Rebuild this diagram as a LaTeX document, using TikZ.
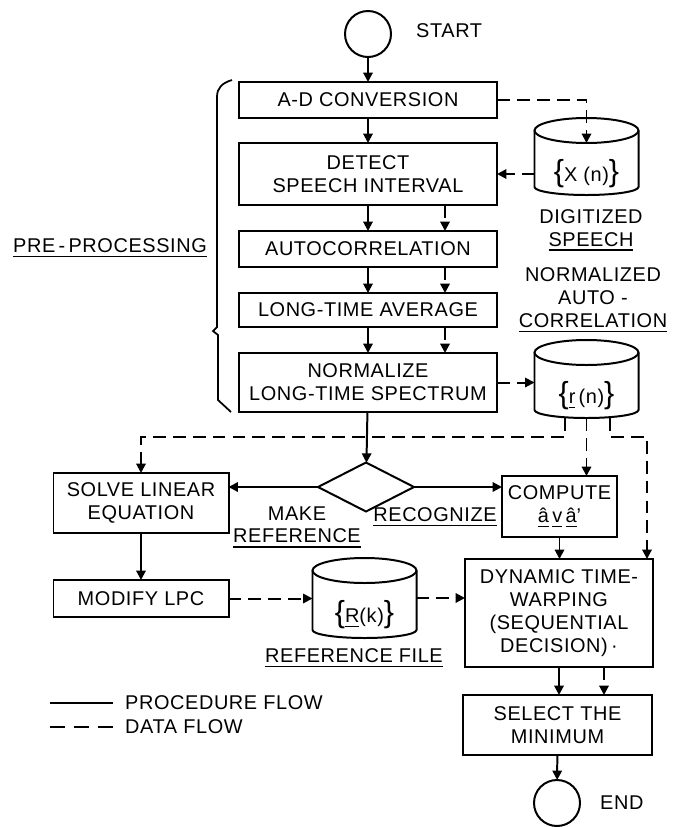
\documentclass[tikz,border=0pt]{standalone}
\usepackage{fontspec}
\setmainfont[LetterSpace=3]{Liberation Sans}
\usetikzlibrary{arrows.meta,shapes.geometric}
\newsavebox\ulbox
\newcommand\myul[1]{\sbox\ulbox{#1}\rlap{\rule[-4pt]{\wd\ulbox}{1.2pt}}\usebox\ulbox}
\newcommand\bigbr[1]{{\fontsize{26}{26}\selectfont#1}}
\newcommand\drawcyl[1]{%
 \draw[line width=1.7pt] ([yshift=-0.375cm]#1.north) ellipse [x radius=1.56cm, y radius=0.375cm];
 \draw[line width=1.7pt] ([yshift=-0.375cm]#1.north west) -- ([yshift=0.24cm]#1.south west)
   arc[start angle=180,end angle=360,x radius=1.56cm,y radius=0.24cm] -- ([yshift=-0.375cm]#1.north east);}
\begin{document}
\begin{tikzpicture}[x=0.03cm,y=-0.03cm,
 every node/.style={font=\fontsize{17}{19.5}\selectfont, align=center},
 boxnode/.style={draw, line width=1.7pt, rectangle, inner sep=0pt, outer sep=0pt},
 cylnode/.style={rectangle, inner sep=0pt, outer sep=0pt, minimum width=3.12cm, text height=1.57cm, text depth=0.1cm},
 termnode/.style={draw, circle, line width=1.7pt, minimum size=1.38cm, inner sep=0pt, outer sep=0pt},
 procflow/.style={line width=1.7pt, -{Triangle[length=8pt,width=8pt]}},
 dataflow/.style={procflow, dash pattern=on 11pt off 6pt},
 lblnode/.style={inner sep=0pt}]
\useasboundingbox (0,0) rectangle (685,827);

% terminals
\node[termnode] (startc) at (368,34) {};
\node[lblnode, anchor=west] (startlbl) at (416,31) {START};
\node[termnode] (endc) at (557,803) {};
\node[lblnode, anchor=west] (endlbl) at (600,803) {END};

% pre-processing boxes
\node[boxnode, minimum width=7.74cm, minimum height=1.08cm] (ad) at (368,100) {A-D CONVERSION};
\node[boxnode, minimum width=7.74cm, minimum height=1.86cm] (detect) at (368,174) {DETECT\\SPEECH INTERVAL};
\node[boxnode, minimum width=7.74cm, minimum height=1.08cm] (auto) at (368,249) {AUTOCORRELATION};
\node[boxnode, minimum width=7.74cm, minimum height=1.02cm] (lta) at (368,310) {LONG-TIME AVERAGE};
\node[boxnode, minimum width=7.74cm, minimum height=1.77cm] (norm) at (368,382.5) {NORMALIZE\\LONG-TIME SPECTRUM};

% decision
\node[draw, diamond, line width=1.7pt, minimum width=2.88cm, minimum height=1.47cm, inner sep=0pt, outer sep=0pt] (dia) at (366,487) {};

% lower boxes
\node[boxnode, minimum width=5.25cm, minimum height=1.8cm] (solve) at (141,503) {SOLVE LINEAR\\EQUATION};
\node[boxnode, minimum width=5.25cm, minimum height=1.11cm] (modify) at (141,598.5) {MODIFY LPC};
\node[boxnode, minimum width=3.45cm, minimum height=1.83cm] (compute) at (559.5,506.5) {COMPUTE\\\myul{â}\,\myul{v}\,\myul{â}'};
\node[boxnode, minimum width=5.64cm, minimum height=3.24cm] (dtw) at (559,613) {DYNAMIC TIME-\\WARPING\\(SEQUENTIAL\\DECISION)\,·};
\node[boxnode, minimum width=5.67cm, minimum height=1.8cm] (select) at (557.5,725) {SELECT THE\\MINIMUM};

% cylinders
\node[cylnode, minimum height=2.31cm] (xn) at (586.5,156.5) {\bigbr{\{}X\ (n)\bigbr{\}}};
\drawcyl{xn}
\node[cylnode, minimum height=2.34cm] (rn) at (586.5,379) {\bigbr{\{}\myul{r}\,(n)\bigbr{\}}};
\drawcyl{rn}
\node[cylnode, minimum height=2.4cm] (rk) at (364.5,598) {\bigbr{\{}\myul{R}(k)\bigbr{\}}};
\drawcyl{rk}

% labels
\node[lblnode] (dig) at (591,230) {DIGITIZED\\\myul{SPEECH}};
\node[lblnode] (nac) at (593,300) {NORMALIZED\\AUTO -\\\myul{CORRELATION}};
\node[lblnode] (pre) at (110,248) {\myul{PRE\,-\,PROCESSING}};
\node[lblnode] (mkref) at (297,527) {MAKE\\\myul{REFERENCE}};
\node[lblnode] (recog) at (435,517) {\myul{RECOGNIZE}};
\node[lblnode] (rfile) at (354,658) {\myul{REFERENCE FILE}};

% brace
\draw[line width=1.5pt] (232,80) .. controls (222,83) and (217,88) .. (217,97) -- (217,327) -- (213,331) -- (218,335) -- (218,400) -- (231,412);

% procedure flow
\draw[procflow] (startc) -- (ad);
\draw[procflow] (ad) -- (detect);
\draw[procflow] (detect) -- (auto);
\draw[procflow] (auto) -- (lta);
\draw[procflow] (lta) -- (norm);
\draw[procflow] (norm) -- (dia);
\draw[procflow] (dia.west) -- (dia.west -| solve.east);
\draw[procflow] (dia.east) -- (dia.east -| compute.west);
\draw[procflow] (solve) -- (modify);
\draw[procflow] (compute.south) -- (compute.south |- dtw.north);
\draw[procflow] (dtw.south) -- (dtw.south |- select.north);
\draw[procflow] (select) -- (endc);

% data flow
\draw[dataflow] (ad.east) -| ([yshift=-0.75cm]xn.north);
\draw[dataflow] (xn.west |- detect.east) -- (detect.east);
\draw[dataflow] ([xshift=2.31cm]detect.south) -- ([xshift=2.31cm]auto.north);
\draw[dataflow] ([xshift=2.31cm]auto.south) -- ([xshift=2.31cm]lta.north);
\draw[dataflow] ([xshift=2.31cm]lta.south) -- ([xshift=2.31cm]norm.north);
\draw[dataflow] (norm.east) -- (norm.east -| rn.west);
\draw[dataflow] ([xshift=-0.645cm]rn.south) -- ++(0,19) -| (solve.north);
\draw[dataflow] (rn.south) -- (rn.south |- compute.north);
\draw[dataflow] ([xshift=0.705cm]rn.south) -- ++(0,19) -| ([xshift=2.64cm]dtw.north);
\draw[dataflow] (modify.east) -- (modify.east -| rk.west);
\draw[dataflow] (rk.east) -- (rk.east -| dtw.west);
\draw[dataflow] ([xshift=1.35cm]dtw.south) -- ([xshift=1.35cm]dtw.south |- select.north);

% legend
\coordinate (lp1) at (50,703);
\coordinate (lp2) at (113,703);
\coordinate (ld1) at (50,727);
\coordinate (ld2) at (113,727);
\draw[line width=1.7pt] (lp1) -- (lp2);
\draw[line width=1.7pt, dash pattern=on 0.45cm off 0.27cm] (ld1) -- (ld2);
\node[lblnode, anchor=west] (lproc) at (125,703) {PROCEDURE FLOW};
\node[lblnode, anchor=west] (ldata) at (125,727) {DATA FLOW};
\end{tikzpicture}
\end{document}
